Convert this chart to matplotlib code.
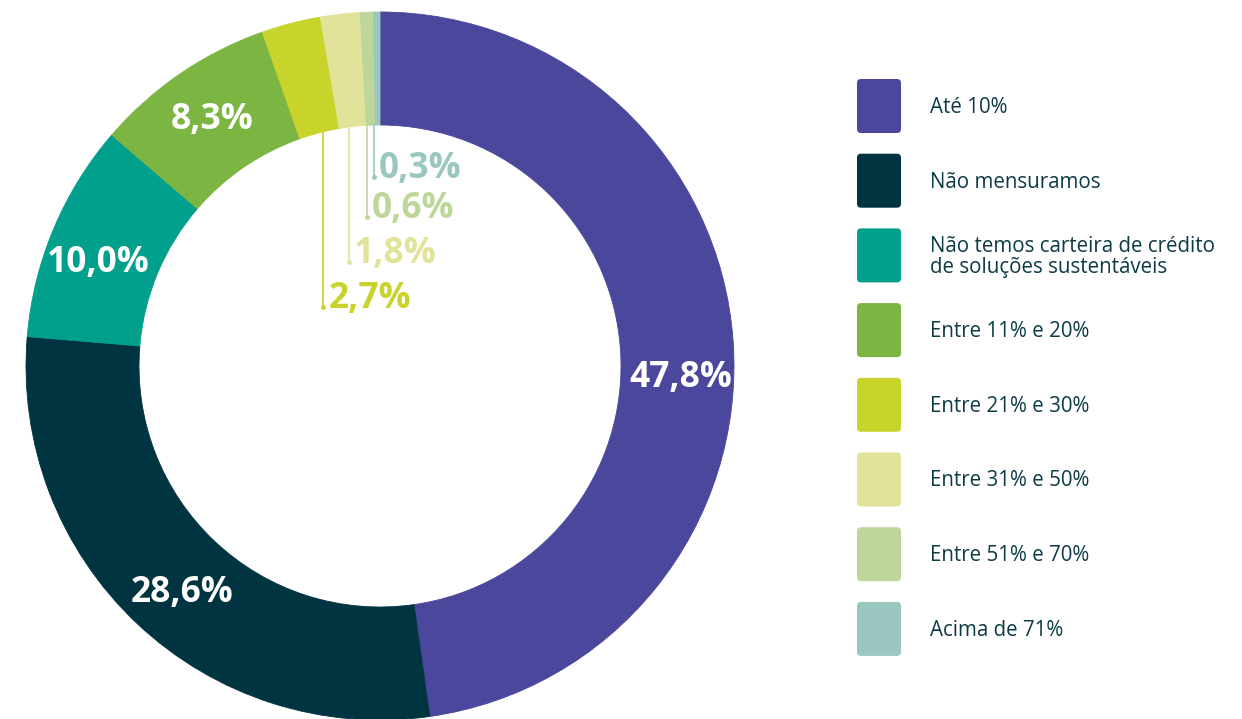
import numpy as np
import matplotlib
matplotlib.use("Agg")
import matplotlib.pyplot as plt
from matplotlib.patches import FancyBboxPatch

# Dados do gráfico
categorias = ["Até 10%", "Não mensuramos",
              "Não temos carteira de crédito\nde soluções sustentáveis",
              "Entre 11% e 20%", "Entre 21% e 30%", "Entre 31% e 50%",
              "Entre 51% e 70%", "Acima de 71%"]
valores = [47.8, 28.6, 10.0, 8.3, 2.7, 1.8, 0.6, 0.3]
cores = ["#4b479c", "#003441", "#00a08c", "#7db543",
         "#c8d42b", "#e2e39a", "#bdd79b", "#9ac7bf"]

W, H = 1242, 719
plt.rcParams['font.family'] = ['Open Sans', 'DejaVu Sans']
fig = plt.figure(figsize=(W / 100, H / 100), dpi=100)
ax = fig.add_axes([0, 0, 1, 1])

# coordenadas em pixels, y medido de cima para baixo
def Y(y):
    return H - y

cx, cy = 380, 366
r_ext, r_int = 354, 241

wedges, _ = ax.pie(valores, colors=cores, startangle=90, counterclock=False,
                   center=(cx, Y(cy)), radius=r_ext,
                   wedgeprops=dict(width=r_ext - r_int, linewidth=0.6))
for w in wedges:
    w.set_edgecolor(w.get_facecolor())

# rótulos brancos dentro do anel (fatias grandes)
ajuste = [(4, 33), (6, 11), (-7, 12), (0, 0)]
r_meio = (r_ext + r_int) / 2
for i in range(4):
    w = wedges[i]
    ang = np.deg2rad((w.theta1 + w.theta2) / 2)
    x = cx + r_meio * np.cos(ang) + ajuste[i][0]
    y = Y(cy) + r_meio * np.sin(ang) - ajuste[i][1]
    ax.text(x, y, f"{valores[i]:.1f}".replace(".", ",") + "%",
            color="white", fontsize=25.5, fontweight="bold",
            ha="center", va="center")

# fatias pequenas: linha vertical desde a borda interna até o rótulo
base_rotulo = [307, 262, 217, 177]
for k, i in enumerate(range(4, 8)):
    w = wedges[i]
    ang = np.deg2rad((w.theta1 + w.theta2) / 2)
    x = cx + r_int * np.cos(ang) + (4 if k == 0 else -4)
    y_topo = Y(cy) + np.sqrt(r_int ** 2 - (x - cx) ** 2)
    y_fim = Y(base_rotulo[k])
    ax.plot([x, x], [y_topo, y_fim], color=cores[i], lw=1.2)
    ax.plot(x, y_fim, "o", color=cores[i], ms=2.5)
    ax.text(x + 5, y_fim - 1, f"{valores[i]:.1f}".replace(".", ",") + "%",
            color=cores[i], fontsize=25.5, fontweight="bold",
            ha="left", va="baseline")

# legenda com quadrados arredondados
leg_y0, leg_passo = 106, 74.7
for i, (nome, cor) in enumerate(zip(categorias, cores)):
    yc = leg_y0 + i * leg_passo
    ax.add_patch(FancyBboxPatch((857 + 4, Y(yc + 27) + 4), 44 - 8, 54 - 8,
                                boxstyle="round,pad=4", facecolor=cor,
                                edgecolor="none"))
    ax.text(930, Y(yc + 1.5), nome, color="#0d3b45", fontsize=14.8,
            ha="left", va="center", linespacing=1.0)

ax.set_xlim(0, W)
ax.set_ylim(0, H)
ax.set_aspect("equal")
ax.axis("off")

fig.savefig("out.png", dpi=100, facecolor="white")
